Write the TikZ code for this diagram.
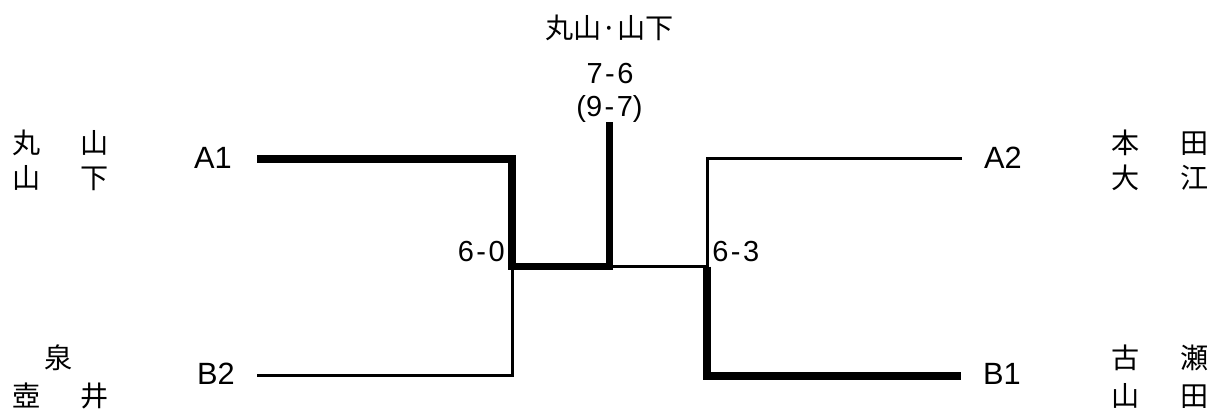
\documentclass[tikz,border=0pt]{standalone}
\usepackage{fontspec}
\setmainfont{Liberation Sans}
\newfontfamily\jpfont{Noto Sans CJK JP}
\usetikzlibrary{positioning}

\newcommand{\namepair}[2]{#1\hspace{1.45em}#2}
\newcommand{\setscore}[2]{#1\kern1.4pt-\kern1.4pt#2}

\begin{document}
\begin{tikzpicture}[x=0.02cm, y=-0.02cm,
    win/.style={line width=4.3pt, line join=miter},
    lose/.style={line width=1.7pt},
    player/.style={inner sep=0pt, font=\jpfont\fontsize{16pt}{19pt}\selectfont},
    seed/.style={inner sep=0pt, font=\fontsize{17.5pt}{21pt}\selectfont},
    score/.style={inner sep=0pt, font=\fontsize{16.5pt}{20pt}\selectfont}]
    \useasboundingbox (0,0) rectangle (1212,409);

    % players, left
    \node[player] (p1a) at (60.5,142.5) {\namepair{丸}{山}};
    \node[player] (p1b) at (60.5,178) {\namepair{山}{下}};
    \node[player] (p2a) at (59,357.5) {泉};
    \node[player] (p2b) at (60.5,396) {\namepair{壺}{井}};

    % players, right
    \node[player] (p3a) at (1160,142.5) {\namepair{本}{田}};
    \node[player] (p3b) at (1160,177.5) {\namepair{大}{江}};
    \node[player] (p4a) at (1160,358) {\namepair{古}{瀬}};
    \node[player] (p4b) at (1160,396) {\namepair{山}{田}};

    % seeds
    \node[seed] (sA1) at (213,158) {A1};
    \node[seed] (sB2) at (216,374) {B2};
    \node[seed] (sA2) at (1003,157.5) {A2};
    \node[seed] (sB1) at (1002,374) {B1};

    % bracket points
    \coordinate (a1) at (257,159);
    \coordinate (b2) at (257,375);
    \coordinate (a2) at (962,158.5);
    \coordinate (b1) at (961,376);
    \coordinate (semiL) at (512,266.5);
    \coordinate (semiR) at (707,266.5);
    \coordinate (final) at (609.5,266.5);
    \coordinate (champ) at (609.5,122);

    % bracket
    \draw[win] (a1) -| (semiL) -- (final) -- (champ);
    \draw[lose] (b2) -| (semiL);
    \draw[lose] (final) -- (semiR);
    \draw[lose] (a2) -| (semiR);
    \draw[win] (semiR) |- (b1);

    % scores
    \node[score, anchor=east] (s60) at (505,252) {\setscore{6}{0}};
    \node[score, anchor=west] (s63) at (712,252) {\setscore{6}{3}};
    \node[score] (s76) at (610,74) {\setscore{7}{6}};
    \node[score] (tb) at (609.5,109) {(\setscore{9}{7})};
    \node[player] (winner) at (609.5,28) {丸山·山下};
\end{tikzpicture}
\end{document}
